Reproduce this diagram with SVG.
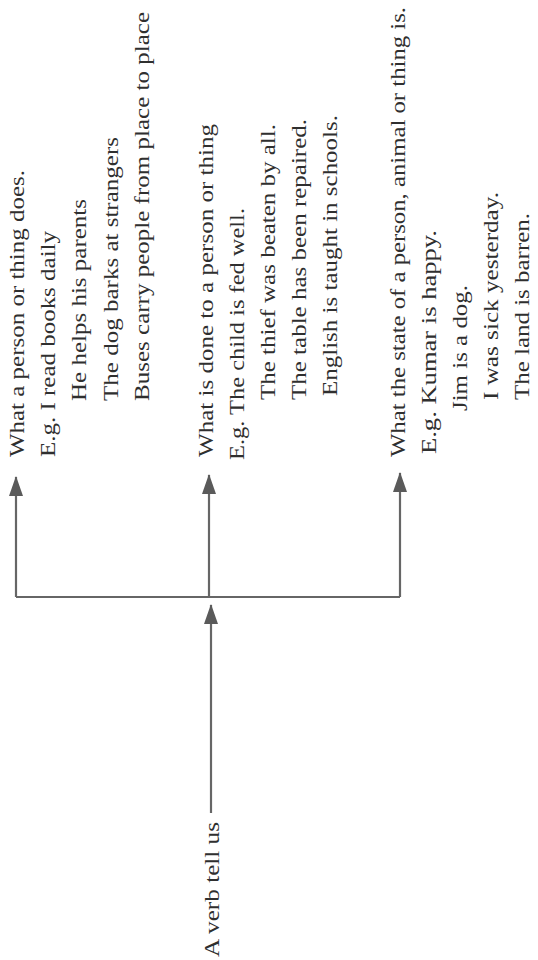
<svg xmlns="http://www.w3.org/2000/svg" width="538" height="960" viewBox="0 0 538 960">
<style>
  text { font-family: "Liberation Serif", "Times New Roman", serif; font-size: 20px; fill: #2f2f2f; }
  .ln { stroke: #666666; stroke-width: 2.2; fill: none; }
</style>
<defs>
  <marker id="ah" markerUnits="userSpaceOnUse" markerWidth="20" markerHeight="14" refX="19" refY="7" orient="auto">
    <path d="M0,0 L20,7 L0,14 z" fill="#5a5a5a"/>
  </marker>
</defs>
<rect width="538" height="960" fill="#ffffff"/>

<g id="connectors">
  <path class="ln" d="M16,597 H400"/>
  <path class="ln" d="M16,597 V477" marker-end="url(#ah)"/>
  <path class="ln" d="M209,597 V475" marker-end="url(#ah)"/>
  <path class="ln" d="M400,597 V473" marker-end="url(#ah)"/>
  <path class="ln" d="M211,813 V605" marker-end="url(#ah)"/>
</g>

<g id="root">
  <text transform="translate(219,957) rotate(-90)" textLength="135" lengthAdjust="spacingAndGlyphs">A verb tell us</text>
</g>

<g id="node-does">
  <text transform="translate(24,457) rotate(-90)" textLength="287" lengthAdjust="spacingAndGlyphs">What a person or thing does.</text>
  <text transform="translate(55,457) rotate(-90)" textLength="226" lengthAdjust="spacingAndGlyphs">E.g. I read books daily</text>
  <text transform="translate(86,401) rotate(-90)" textLength="202" lengthAdjust="spacingAndGlyphs">He helps his parents</text>
  <text transform="translate(118,401) rotate(-90)" textLength="264" lengthAdjust="spacingAndGlyphs">The dog barks at strangers</text>
  <text transform="translate(149,401) rotate(-90)" textLength="389" lengthAdjust="spacingAndGlyphs">Buses carry people from place to place</text>
</g>

<g id="node-done">
  <text transform="translate(213,457) rotate(-90)" textLength="333" lengthAdjust="spacingAndGlyphs">What is done to a person or thing</text>
  <text transform="translate(244,460) rotate(-90)" textLength="252" lengthAdjust="spacingAndGlyphs">E.g. The child is fed well.</text>
  <text transform="translate(275,400) rotate(-90)" textLength="276" lengthAdjust="spacingAndGlyphs">The thief was beaten by all.</text>
  <text transform="translate(306,400) rotate(-90)" textLength="281" lengthAdjust="spacingAndGlyphs">The table has been repaired.</text>
  <text transform="translate(337,396) rotate(-90)" textLength="281" lengthAdjust="spacingAndGlyphs">English is taught in schools.</text>
</g>

<g id="node-state">
  <text transform="translate(405,457) rotate(-90)" textLength="450" lengthAdjust="spacingAndGlyphs">What the state of a person, animal or thing is.</text>
  <text transform="translate(436,454) rotate(-90)" textLength="224" lengthAdjust="spacingAndGlyphs">E.g. Kumar is happy.</text>
  <text transform="translate(467,411) rotate(-90)" textLength="126" lengthAdjust="spacingAndGlyphs">Jim is a dog.</text>
  <text transform="translate(498,400) rotate(-90)" textLength="208" lengthAdjust="spacingAndGlyphs">I was sick yesterday.</text>
  <text transform="translate(529,400) rotate(-90)" textLength="187" lengthAdjust="spacingAndGlyphs">The land is barren.</text>
</g>
</svg>
